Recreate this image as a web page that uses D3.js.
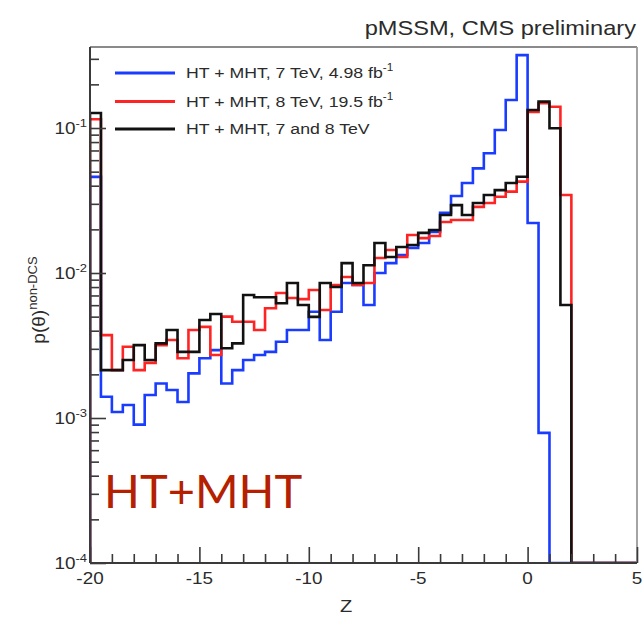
<!DOCTYPE html>
<html><head><meta charset="utf-8">
<script src="https://cdn.jsdelivr.net/npm/d3@7"></script>
<style>body{margin:0;background:#fff}svg{display:block}</style>
</head><body>
<svg id="c" width="643" height="625"></svg>
<script>
// ---- data ----
const binLow = [-20,-19.5,-19,-18.5,-18,-17.5,-17,-16.5,-16,-15.5,-15,-14.5,-14,-13.5,-13,-12.5,-12,-11.5,-11,-10.5,
  -10,-9.5,-9,-8.5,-8,-7.5,-7,-6.5,-6,-5.5,-5,-4.5,-4,-3.5,-3,-2.5,-2,-1.5,-1,-0.5,
  0,0.5,1,1.5,2,2.5,3,3.5,4,4.5];
const binWidth = 0.5;
const seriesNames = ["HT + MHT, 7 TeV, 4.98 fb", "HT + MHT, 8 TeV, 19.5 fb", "HT + MHT, 7 and 8 TeV"];
const seriesSup = ["-1", "-1", ""];
const blue7 = [0.046,0.00140,0.00110,0.00123,0.00090,0.00144,0.00173,0.00156,0.00129,0.00203,
  0.00258,0.00294,0.00173,0.00214,0.00251,0.00272,0.00286,0.00336,0.00405,0.00405,
  0.00541,0.00345,0.00541,0.00853,0.00826,0.00601,0.0100,0.0117,0.0133,0.0149,
  0.0161,0.0192,0.0260,0.0340,0.0418,0.0527,0.0670,0.0969,0.156,0.318,
  0.0221,0.00079,0,0,0,0,0,0,0,0];
const red8 = [0.115,0.00373,0.00214,0.00310,0.00214,0.00240,0.00318,0.00345,0.00258,0.00405,
  0.00425,0.00272,0.00500,0.00461,0.00461,0.00405,0.00571,0.00728,0.00673,0.0066,
  0.00764,0.00556,0.00826,0.00938,0.00826,0.00853,0.0127,0.0144,0.0129,0.0183,
  0.0174,0.0180,0.0225,0.0232,0.0232,0.0286,0.0304,0.0336,0.0364,0.0427,
  0.129,0.148,0.140,0.0345,0,0,0,0,0,0];
const black78 = [0.127,0.00214,0.00214,0.00251,0.00318,0.00251,0.00327,0.00405,0.00286,0.00286,
  0.00474,0.00521,0.00303,0.00327,0.00705,0.0068,0.0068,0.00618,0.00853,0.00601,
  0.00498,0.00853,0.0080,0.0117,0.00853,0.0113,0.0161,0.0129,0.0151,0.0156,
  0.0189,0.0198,0.0251,0.0294,0.0251,0.0304,0.0345,0.0373,0.0418,0.0461,
  0.133,0.152,0.0996,0.00601,0,0,0,0,0,0];
const xMajorTicks = [-20,-15,-10,-5,0,5];
const xMinorTicks = [-19,-18,-17,-16,-14,-13,-12,-11,-9,-8,-7,-6,-4,-3,-2,-1,1,2,3,4];
const yMajorTicks = [1e-4,1e-3,1e-2,1e-1];
const yTickExp = ["-4","-3","-2","-1"];
const yMinorTicks = [2e-4,3e-4,4e-4,5e-4,6e-4,7e-4,8e-4,9e-4,2e-3,3e-3,4e-3,5e-3,6e-3,7e-3,8e-3,9e-3,
  2e-2,3e-2,4e-2,5e-2,6e-2,7e-2,8e-2,9e-2,2e-1,3e-1];

// ---- layout ----
const L=90, R=637, T=47, B=563, SX=1.18;
const font = "'Liberation Sans', Arial, Helvetica, sans-serif";
const ink = "#2b2b2b";
const svg = d3.select("#c");
const x = d3.scaleLinear().domain([-20,5]).range([L,R]);
const y = d3.scaleLog().domain([1e-4,0.362]).range([B,T]);
const yv = v => v > 1e-4 ? y(v) : B;

svg.append("clipPath").attr("id","clip").append("rect")
  .attr("x",L).attr("y",T).attr("width",R-L).attr("height",B-T);

const series = [
  {vals: blue7, color: "#1a3cff"},
  {vals: red8, color: "#ff2424"},
  {vals: black78, color: "#111111"}
];
const line = d3.line().x(d=>x(d[0])).y(d=>yv(d[1]));
series.forEach(s => {
  const pts = [[binLow[0], 0]];
  s.vals.forEach((v,i) => { pts.push([binLow[i], v]); pts.push([binLow[i]+binWidth, v]); });
  pts.push([binLow[binLow.length-1]+binWidth, 0]);
  svg.append("path").attr("d", line(pts)).attr("fill","none")
    .attr("stroke", s.color).attr("stroke-width", 2.6)
    .attr("stroke-linejoin","miter").attr("clip-path","url(#clip)");
});

// frame
svg.append("line").attr("x1",L).attr("x2",R).attr("y1",T).attr("y2",T).attr("stroke","#8a8a8a").attr("stroke-width",1.8);
svg.append("line").attr("x1",R).attr("x2",R).attr("y1",T).attr("y2",B).attr("stroke","#9a9a9a").attr("stroke-width",1.8);

// axes
function styleAxis(g){ g.select(".domain").remove(); g.selectAll("line").attr("stroke","#3a3a3a").attr("stroke-width",1.6); }
svg.append("g").attr("transform",`translate(0,${B})`)
  .call(d3.axisBottom(x).tickValues(xMajorTicks).tickSize(-16).tickFormat("")).call(styleAxis);
svg.append("g").attr("transform",`translate(0,${B})`)
  .call(d3.axisBottom(x).tickValues(xMinorTicks).tickSize(-9).tickFormat("")).call(styleAxis);
svg.append("g").attr("transform",`translate(${L},0)`)
  .call(d3.axisLeft(y).tickValues(yMajorTicks).tickSize(-16).tickFormat("")).call(styleAxis);
svg.append("g").attr("transform",`translate(${L},0)`)
  .call(d3.axisLeft(y).tickValues(yMinorTicks).tickSize(-9).tickFormat("")).call(styleAxis);
svg.append("line").attr("x1",L).attr("x2",R).attr("y1",B).attr("y2",B).attr("stroke","#3a3a3a").attr("stroke-width",2);
svg.append("line").attr("x1",L).attr("x2",L).attr("y1",T).attr("y2",B).attr("stroke","#3a3a3a").attr("stroke-width",2);

// helper for horizontally stretched text
function stext(px, py, anchor, size){
  return svg.append("g").attr("transform",`translate(${px},${py}) scale(${SX},1)`)
    .append("text").attr("text-anchor",anchor).attr("font-family",font)
    .attr("font-size",size).attr("fill",ink);
}

// x tick labels
xMajorTicks.forEach(v => stext(x(v), B+21, "middle", 16).text(v));
// y tick labels
yMajorTicks.forEach((v,i) => {
  const t = stext(87, y(v)+6, "end", 16);
  t.append("tspan").text("10");
  t.append("tspan").attr("dy",-7).attr("font-size",11).text(yTickExp[i]);
});
// axis titles
stext(346, 612, "middle", 17).text("Z");
const yt = svg.append("g").attr("transform","translate(45,300) rotate(-90)")
  .append("text").attr("text-anchor","middle").attr("font-family",font).attr("font-size",19).attr("fill",ink);
yt.append("tspan").text("p(θ)");
yt.append("tspan").attr("dy",-8).attr("font-size",13).text("non-DCS");

// title
stext(636, 35, "end", 20).text("pMSSM, CMS preliminary");

// legend
const legY = [73, 101.5, 129];
series.forEach((s,i) => {
  svg.append("line").attr("x1",115).attr("x2",175).attr("y1",legY[i]).attr("y2",legY[i])
    .attr("stroke", s.color).attr("stroke-width",3);
  const t = stext(186, legY[i]+5, "start", 15);
  t.append("tspan").text(seriesNames[i]);
  if (seriesSup[i]) t.append("tspan").attr("dy",-7).attr("font-size",10).text(seriesSup[i]);
});

// overlay label
svg.append("text").attr("x",104).attr("y",508).attr("font-family","Lato, 'Open Sans', sans-serif")
  .attr("font-size",47).attr("fill","#b42000").text("HT+MHT");
</script>
</body></html>
